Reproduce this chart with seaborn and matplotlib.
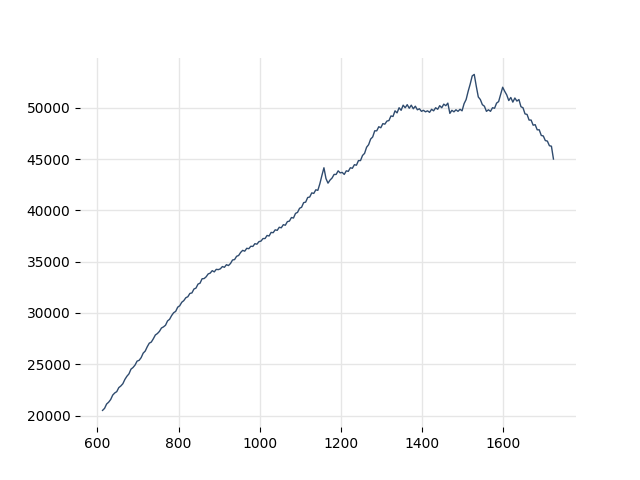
import numpy as np
import pandas as pd
import matplotlib
matplotlib.use("Agg")
import matplotlib.pyplot as plt
import seaborn as sns

# x positions: every 5 units from 613 to 1723
x_start = 613
x_step = 5

# values, in blocks of 20
values = [
    # 613 - 708
    20500, 20700, 21120, 21300, 21560, 21990, 22200, 22330, 22720, 22880,
    23100, 23520, 23830, 24060, 24520, 24680, 24920, 25300, 25380, 25640,
    # 713 - 808
    26080, 26280, 26700, 27050, 27160, 27480, 27850, 27990, 28200, 28530,
    28640, 28800, 29220, 29380, 29740, 30020, 30150, 30560, 30700, 31040,
    # 813 - 908
    31200, 31480, 31580, 31900, 31950, 32330, 32420, 32810, 32900, 33330,
    33350, 33520, 33800, 33880, 34120, 34000, 34250, 34220, 34300, 34520,
    # 913 - 1008
    34450, 34700, 34620, 34820, 35160, 35200, 35520, 35600, 35900, 36100,
    36020, 36300, 36260, 36500, 36480, 36750, 36700, 36950, 37000, 37250,
    # 1013 - 1108
    37250, 37550, 37500, 37850, 37820, 38100, 38050, 38350, 38300, 38600,
    38550, 38900, 38950, 39300, 39250, 39700, 39800, 40200, 40300, 40750,
    # 1113 - 1208
    40800, 41250, 41300, 41700, 41650, 42000, 41950, 42600, 43400, 44150,
    43100, 42650, 42950, 43150, 43500, 43500, 43850, 43650, 43700, 43500,
    # 1213 - 1308
    43850, 43800, 44150, 44100, 44450, 44400, 44850, 44850, 45350, 45550,
    46150, 46400, 46950, 47150, 47750, 47750, 48150, 48050, 48450, 48400,
    # 1313 - 1408
    48700, 48750, 49200, 49150, 49700, 49500, 50000, 49750, 50250, 50000,
    50300, 49950, 50250, 49900, 50150, 49800, 49900, 49650, 49750, 49600,
    # 1413 - 1508
    49700, 49550, 49850, 49700, 50000, 49850, 50200, 50000, 50350, 50200,
    50450, 49450, 49750, 49600, 49800, 49650, 49850, 49700, 50400, 50800,
    # 1513 - 1608
    51600, 52300, 53100, 53250, 52100, 51050, 50800, 50300, 50150, 49650,
    49800, 49650, 50000, 49950, 50450, 50600, 51300, 52000, 51600, 51250,
    # 1613 - 1708
    50700, 51000, 50550, 50950, 50650, 50800, 50100, 50000, 49400, 49350,
    48800, 48800, 48300, 48350, 47850, 47850, 47300, 47250, 46800, 46750,
    # 1713 - 1723
    46300, 46250, 45000,
]

df = pd.DataFrame({
    "x": x_start + x_step * np.arange(len(values)),
    "value": values,
})

fig, ax = plt.subplots(figsize=(6.4, 4.8), dpi=100)
sns.lineplot(data=df, x="x", y="value", ax=ax, color="#2f4b6e", linewidth=1)

ax.grid(True, color="#e6e6e6", linewidth=1)
ax.set_axisbelow(True)
ax.set_xlabel("")
ax.set_ylabel("")
sns.despine(ax=ax, left=True, bottom=True)

fig.savefig("out.png", dpi=100)
